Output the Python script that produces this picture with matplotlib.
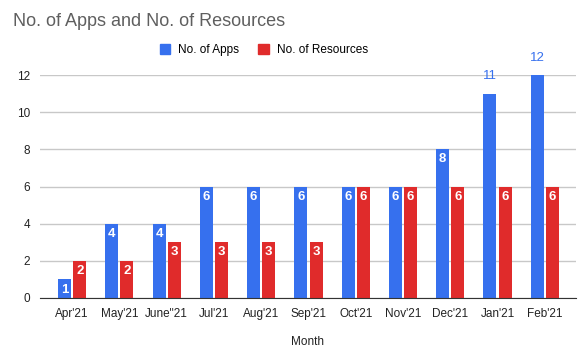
import matplotlib.pyplot as plt
import numpy as np
from matplotlib.patches import Patch

months = ["Apr'21", "May'21", 'June"21', "Jul'21", "Aug'21", "Sep'21",
          "Oct'21", "Nov'21", "Dec'21", "Jan'21", "Feb'21"]
apps = [1, 4, 4, 6, 6, 6, 6, 6, 8, 11, 12]
resources = [2, 2, 3, 3, 3, 3, 6, 6, 6, 6, 6]

blue = '#3670ee'
red = '#e02b2b'

plt.rcParams['font.family'] = ['Liberation Sans', 'DejaVu Sans']

fig = plt.figure(figsize=(5.83, 3.54), dpi=100)
ax = fig.add_axes([40 / 583, 56 / 354, 536 / 583, 223 / 354])

x = np.arange(len(months))
w = 0.275
off = 0.16
b1 = ax.bar(x - off, apps, w, color=blue, zorder=3)
b2 = ax.bar(x + off, resources, w, color=red, zorder=3)

# labels: inside the bar in white, above it in the series colour when too tall
for bars, vals, col in [(b1, apps, blue), (b2, resources, red)]:
    for rect, v in zip(bars, vals):
        cx = rect.get_x() + rect.get_width() / 2
        if v > 10:
            ax.annotate(str(v), (cx, v), xytext=(0, 8), textcoords='offset points',
                        ha='center', va='bottom', color=col, fontsize=9.5,
                        annotation_clip=False)
        else:
            ax.annotate(str(v), (cx, v), xytext=(0, -3), textcoords='offset points',
                        ha='center', va='top', color='white', fontsize=9.5,
                        fontweight='bold')

ax.set_xlim(-0.68, 10.66)
ax.set_ylim(0, 12)
ax.set_yticks(range(0, 13, 2))
ax.set_xticks(x)
ax.set_xticklabels(months)
ax.tick_params(axis='both', length=0, labelsize=8.5, colors='#222222')
ax.tick_params(axis='y', pad=7)
ax.tick_params(axis='x', pad=7)
ax.grid(axis='y', color='#c8c8c8', linewidth=1, zorder=0)
for s in ['top', 'right', 'left']:
    ax.spines[s].set_visible(False)
ax.spines['bottom'].set_color('#333333')
ax.spines['bottom'].set_zorder(4)
ax.set_xlabel('Month', fontsize=8.5, color='#222222', labelpad=12)

fig.text(13 / 583, 1 - 21 / 354, 'No. of Apps and No. of Resources', fontsize=13,
         color='#5f5f5f', va='center', ha='left')

handles = [Patch(color=blue, label='No. of Apps'), Patch(color=red, label='No. of Resources')]
fig.legend(handles=handles, loc='center', bbox_to_anchor=(264 / 583, 1 - 50 / 354),
           ncol=2, frameon=False, fontsize=8.5, handlelength=0.9, handleheight=0.9,
           handletextpad=0.7, columnspacing=1.6, borderaxespad=0)

fig.savefig('out.png', dpi=100)
